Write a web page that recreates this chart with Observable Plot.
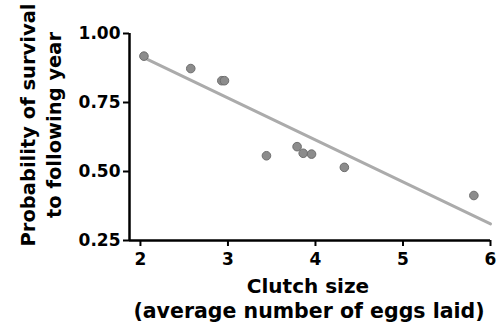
<!DOCTYPE html>
<html>
<head>
<meta charset="utf-8">
<script src="https://cdn.jsdelivr.net/npm/d3@7"></script>
<script src="https://cdn.jsdelivr.net/npm/@observablehq/plot@0.6"></script>
<style>
  html, body { margin: 0; padding: 0; background: #fff; }
  #chart svg { display: block; }
</style>
</head>
<body>
<div id="chart"></div>
<script>
// Data
const clutchSize = [2.04, 2.575, 2.93, 2.96, 3.44, 3.79, 3.86, 3.955, 4.33, 5.81];
const survival   = [0.918, 0.873, 0.829, 0.829, 0.557, 0.590, 0.566, 0.563, 0.515, 0.413];
// Fitted line endpoints
const fitX = [2.02, 6.0];
const fitY = [0.915, 0.31];
const xTicks = [2, 3, 4, 5, 6];
const yTicks = [0.25, 0.50, 0.75, 1.00];
const xTitle = ["Clutch size", "(average number of eggs laid)"];
const yTitle = ["Probability of survival", "to following year"];

const points = clutchSize.map((x, i) => ({x, y: survival[i]}));
const fit = fitX.map((x, i) => ({x, y: fitY[i]}));

const font = "'DejaVu Sans', sans-serif";

const plot = Plot.plot({
  width: 499,
  height: 328,
  marginLeft: 129,
  marginRight: 9,
  marginTop: 33,
  marginBottom: 88,
  style: {fontFamily: font, fontSize: "17px", fontWeight: "bold", color: "#000", background: "#fff"},
  x: {domain: [1.875, 6], ticks: xTicks, label: null},
  y: {domain: [0.25, 1.0], ticks: yTicks, label: null},
  marks: [
    Plot.line(fit, {x: "x", y: "y", stroke: "#ababab", strokeWidth: 3}),
    Plot.dot(points, {x: "x", y: "y", r: 4.3, fill: "#8c8c8c", stroke: "#6e6e6e", strokeWidth: 1}),
    Plot.ruleX([1.875], {stroke: "#000", strokeWidth: 2.5}),
    Plot.ruleY([0.25], {stroke: "#000", strokeWidth: 2.5}),
    Plot.axisX({ticks: xTicks, tickSize: 6, tickPadding: 6, strokeWidth: 2, tickFormat: d3.format("d"), label: null}),
    Plot.axisY({ticks: yTicks, tickSize: 6, tickPadding: 3, strokeWidth: 2, tickFormat: d3.format(".2f"), label: null})
  ]
});

const svg = d3.select(plot);
const g = svg.append("g")
  .attr("font-family", font)
  .attr("font-weight", "bold")
  .attr("fill", "#000");

g.append("text").attr("x", 308).attr("y", 293).attr("text-anchor", "middle")
  .attr("font-size", 20).text(xTitle[0]);
g.append("text").attr("x", 309).attr("y", 318).attr("text-anchor", "middle")
  .attr("font-size", 20.5).text(xTitle[1]);

g.append("text").attr("transform", "translate(35,125) rotate(-90)").attr("text-anchor", "middle")
  .attr("font-size", 19.5).text(yTitle[0]);
g.append("text").attr("transform", "translate(61,125) rotate(-90)").attr("text-anchor", "middle")
  .attr("font-size", 19.5).text(yTitle[1]);

document.getElementById("chart").appendChild(plot);
</script>
</body>
</html>
